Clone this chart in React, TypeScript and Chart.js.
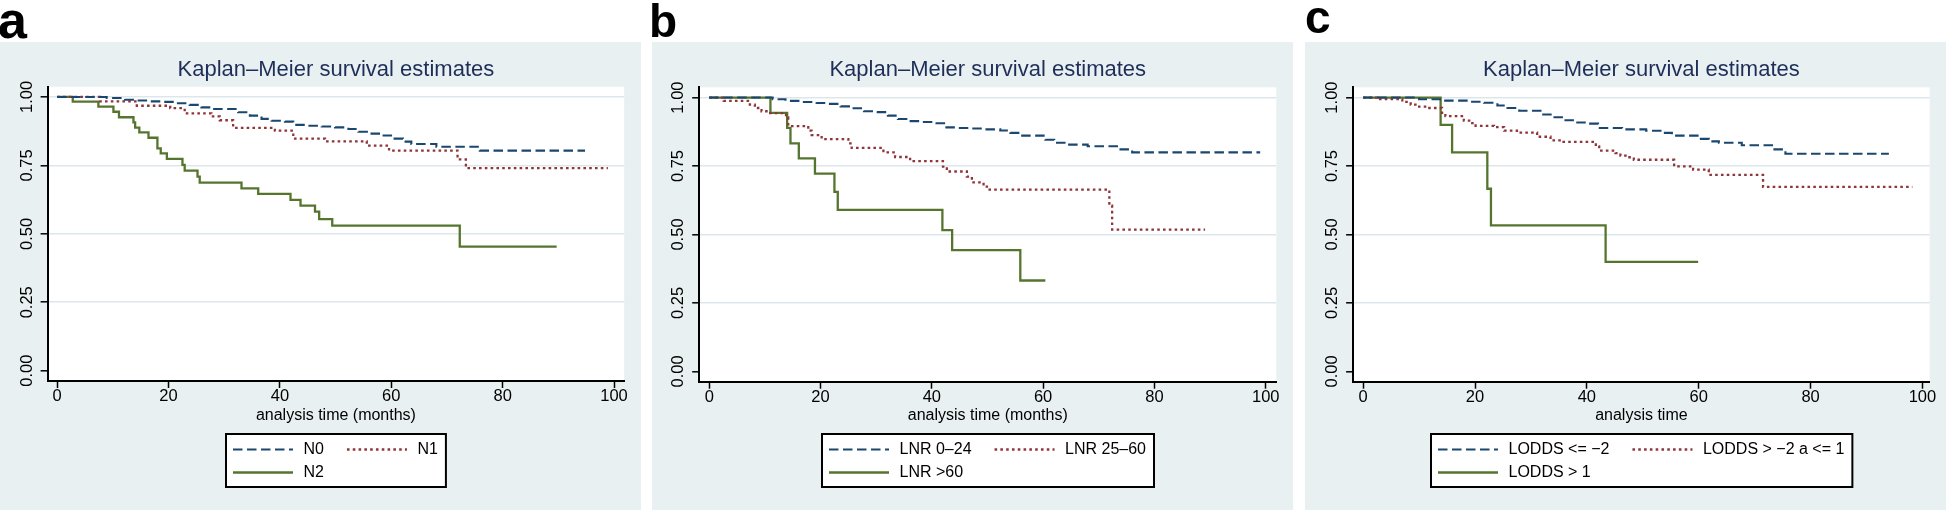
import React, { useEffect, useRef } from "react";
import { Chart, registerables } from "chart.js";

Chart.register(...registerables);

const FONT = '"Liberation Sans", Arial, Helvetica, sans-serif';
const NAVY = "#1a476f";
const MAROON = "#90353b";
const GREEN = "#55752f";
const TITLE_COLOR = "#1e2e58";
const BG = "#e9f0f1";
const GRID = "#dde7eb";

// shared axes
const xTicks = [0, 20, 40, 60, 80, 100];
const yTicks = [0, 0.25, 0.5, 0.75, 1];
const yTickLabels = ["0.00", "0.25", "0.50", "0.75", "1.00"];
const chartTitle = "Kaplan–Meier survival estimates";

// ---- panel a ----
const aLabels = ["N0", "N1", "N2"];
const aN0Time = [0, 8.9, 12.2, 14.1, 16.4, 19.0, 21.4, 23.8, 25.9, 27.7, 32.5, 34.6, 36.7, 38.5, 40.9, 42.4, 45.1, 47.5, 49.9, 52.3, 54.1, 55.9, 58.3, 60.3, 62.1, 63.6, 68.1, 75.9, 94.8];
const aN0Surv = [1, 0.996, 0.99, 0.987, 0.984, 0.982, 0.977, 0.971, 0.962, 0.956, 0.944, 0.932, 0.92, 0.913, 0.91, 0.898, 0.895, 0.892, 0.889, 0.883, 0.873, 0.866, 0.859, 0.848, 0.837, 0.828, 0.818, 0.804, 0.804];
const aN1Time = [0, 7.7, 14.3, 20.3, 22.9, 27.7, 29.2, 31.6, 39.1, 42.4, 48.1, 55.6, 59.6, 71.9, 73.4, 98.9];
const aN1Surv = [1, 0.984, 0.968, 0.959, 0.94, 0.929, 0.915, 0.887, 0.877, 0.848, 0.838, 0.822, 0.804, 0.772, 0.74, 0.74];
const aN2Time = [0, 2.8, 7.4, 10.1, 11.1, 13.7, 14.0, 14.75, 16.4, 18.0, 18.6, 19.7, 22.5, 22.9, 25.2, 25.6, 33.1, 36.1, 41.9, 43.7, 46.3, 47.05, 49.4, 72.3, 89.7];
const aN2Surv = [1, 0.983, 0.965, 0.946, 0.926, 0.907, 0.888, 0.871, 0.851, 0.812, 0.794, 0.774, 0.752, 0.731, 0.709, 0.687, 0.666, 0.646, 0.624, 0.603, 0.581, 0.554, 0.53, 0.453, 0.453];

// ---- panel b ----
const bLabels = ["LNR 0–24", "LNR 25–60", "LNR >60"];
const bLowTime = [0, 11.4, 13.7, 16.5, 19.3, 21.4, 23.6, 25.6, 27.8, 30.0, 32.1, 33.9, 36.2, 37.9, 39.9, 42.2, 44.8, 46.9, 49.0, 52.3, 54.1, 55.9, 60.4, 62.0, 64.3, 68.0, 73.6, 76.0, 99.0];
const bLowSurv = [1, 0.994, 0.988, 0.984, 0.98, 0.977, 0.968, 0.961, 0.95, 0.947, 0.934, 0.922, 0.914, 0.911, 0.906, 0.891, 0.889, 0.887, 0.884, 0.88, 0.871, 0.861, 0.846, 0.835, 0.828, 0.822, 0.811, 0.8, 0.8];
const bMidTime = [0, 2.6, 7.3, 8.2, 9.4, 10.3, 13.8, 14.2, 17.8, 18.4, 20.2, 25.0, 25.6, 31.3, 33.4, 36.1, 42.0, 42.7, 46.3, 47.2, 49.3, 49.9, 71.9, 72.4, 89.1];
const bMidSurv = [1, 0.988, 0.974, 0.962, 0.95, 0.943, 0.928, 0.896, 0.879, 0.863, 0.848, 0.833, 0.816, 0.8, 0.783, 0.768, 0.748, 0.73, 0.711, 0.69, 0.675, 0.664, 0.605, 0.518, 0.518];
const bHighTime = [0, 11.0, 14.0, 14.6, 16.1, 19.0, 22.5, 23.1, 41.9, 43.65, 55.9, 60.4];
const bHighSurv = [1, 0.944, 0.889, 0.833, 0.778, 0.722, 0.656, 0.59, 0.516, 0.443, 0.332, 0.332];

// ---- panel c ----
const cLabels = ["LODDS <= −2", "LODDS > −2 a <= 1", "LODDS > 1"];
const cLowTime = [0, 10.0, 14.1, 19.2, 21.6, 24.0, 25.8, 27.9, 32.0, 33.9, 35.9, 37.8, 40.2, 42.0, 46.3, 50.6, 53.4, 55.2, 60.0, 61.8, 63.6, 67.7, 73.1, 75.5, 94.0];
const cLowSurv = [1, 0.994, 0.989, 0.985, 0.981, 0.971, 0.962, 0.952, 0.938, 0.928, 0.917, 0.909, 0.905, 0.889, 0.884, 0.879, 0.871, 0.861, 0.849, 0.84, 0.835, 0.826, 0.811, 0.795, 0.795];
const cMidTime = [0, 2.5, 7.0, 8.5, 10.0, 11.5, 14.1, 14.7, 18.0, 19.5, 20.1, 23.4, 25.2, 27.5, 31.1, 33.5, 35.6, 41.6, 42.2, 45.1, 46.0, 47.2, 48.4, 55.6, 59.0, 61.8, 71.5, 98.2];
const cMidSurv = [1, 0.994, 0.984, 0.974, 0.967, 0.962, 0.944, 0.932, 0.916, 0.907, 0.897, 0.892, 0.879, 0.872, 0.857, 0.844, 0.838, 0.822, 0.806, 0.797, 0.788, 0.782, 0.773, 0.749, 0.737, 0.718, 0.674, 0.674];
const cHighTime = [0, 13.85, 15.9, 22.2, 22.85, 43.35, 59.9];
const cHighSurv = [1, 0.9, 0.8, 0.667, 0.533, 0.4, 0.4];

const STYLES = [
  { color: NAVY, width: 2.1, dash: [9.5, 4.5] },
  { color: MAROON, width: 2.3, dash: [2.6, 3.2] },
  { color: GREEN, width: 2.3, dash: [] as number[] },
];

type Series = { label: string; time: number[]; surv: number[] };
type PanelSpec = {
  letter: string; letterSize: number; letterX: number; letterBase: number;
  left: number; width: number;
  plotLeft: number; plotRight: number; plotTop: number; plotBottom: number;
  xMin: number; xMax: number; xTitle: string; series: Series[];
};

const PANELS: PanelSpec[] = [
  {
    letter: "a", letterSize: 52, letterX: -2, letterBase: 38.3,
    left: 0, width: 641, plotLeft: 47.6, plotRight: 624.2, plotTop: 86.7, plotBottom: 381,
    xMin: -1.72, xMax: 101.83, xTitle: "analysis time (months)",
    series: [
      { label: aLabels[0], time: aN0Time, surv: aN0Surv },
      { label: aLabels[1], time: aN1Time, surv: aN1Surv },
      { label: aLabels[2], time: aN2Time, surv: aN2Surv },
    ],
  },
  {
    letter: "b", letterSize: 46, letterX: -3, letterBase: 36.7,
    left: 652, width: 641, plotLeft: 47.2, plotRight: 624.3, plotTop: 87.3, plotBottom: 381.7,
    xMin: -1.8, xMax: 101.9, xTitle: "analysis time (months)",
    series: [
      { label: bLabels[0], time: bLowTime, surv: bLowSurv },
      { label: bLabels[1], time: bMidTime, surv: bMidSurv },
      { label: bLabels[2], time: bHighTime, surv: bHighSurv },
    ],
  },
  {
    letter: "c", letterSize: 46, letterX: 0, letterBase: 33.3,
    left: 1305, width: 641, plotLeft: 48.1, plotRight: 624.7, plotTop: 87.3, plotBottom: 381.7,
    xMin: -1.8, xMax: 101.3, xTitle: "analysis time",
    series: [
      { label: cLabels[0], time: cLowTime, surv: cLowSurv },
      { label: cLabels[1], time: cMidTime, surv: cMidSurv },
      { label: cLabels[2], time: cHighTime, surv: cHighSurv },
    ],
  },
];

function stataPlugin(p: PanelSpec) {
  return {
    id: "stataDecor",
    beforeDraw(chart: any) {
      const { ctx, width, height, chartArea: ca } = chart;
      ctx.save();
      ctx.fillStyle = "#ffffff";
      ctx.fillRect(0, 0, width, height);
      ctx.fillStyle = BG;
      ctx.fillRect(0, 42, width, height - 42);
      ctx.fillStyle = "#ffffff";
      ctx.fillRect(ca.left, ca.top, ca.right - ca.left, ca.bottom - ca.top);
      ctx.restore();
    },
    afterDraw(chart: any) {
      const { ctx, chartArea: ca } = chart;
      ctx.save();
      // panel letter
      ctx.fillStyle = "#000";
      ctx.font = `bold ${p.letterSize}px ${FONT}`;
      ctx.textBaseline = "alphabetic";
      ctx.textAlign = "left";
      ctx.fillText(p.letter, p.letterX, p.letterBase);

      // legend
      ctx.font = `16px ${FONT}`;
      const s = p.series;
      const w1 = Math.max(ctx.measureText(s[0].label).width, ctx.measureText(s[2].label).width);
      const w2 = ctx.measureText(s[1].label).width;
      const padL = 7, lineLen = 60, gapT = 10.5, colGap = 23, padR = 8;
      const boxW = padL + lineLen + gapT + w1 + colGap + lineLen + gapT + w2 + padR;
      const cx = (ca.left + ca.right) / 2;
      const bx = Math.round(cx - boxW / 2);
      const by = 434, bh = 53;
      ctx.fillStyle = "#fff";
      ctx.fillRect(bx, by, boxW, bh);
      ctx.strokeStyle = "#000";
      ctx.lineWidth = 2;
      ctx.setLineDash([]);
      ctx.strokeRect(bx, by, boxW, bh);
      const col1 = bx + padL;
      const col2 = col1 + lineLen + gapT + w1 + colGap;
      const rows = [by + 15.5, by + 38.5];
      const pos = [
        [col1, rows[0]],
        [col2, rows[0]],
        [col1, rows[1]],
      ];
      s.forEach((sr, i) => {
        const st = STYLES[i];
        const [x, y] = pos[i];
        ctx.strokeStyle = st.color;
        ctx.lineWidth = st.width;
        ctx.lineCap = "butt";
        ctx.setLineDash(st.dash);
        ctx.beginPath();
        ctx.moveTo(x, y);
        ctx.lineTo(x + lineLen, y);
        ctx.stroke();
        ctx.setLineDash([]);
        ctx.fillStyle = "#000";
        ctx.textBaseline = "middle";
        ctx.fillText(sr.label, x + lineLen + gapT, y + 0.5);
      });
      ctx.restore();
    },
  };
}

function buildConfig(p: PanelSpec): any {
  const datasets = p.series.map((sr, i) => ({
    label: sr.label,
    data: sr.time.map((t, k) => ({ x: t, y: sr.surv[k] })),
    borderColor: STYLES[i].color,
    backgroundColor: STYLES[i].color,
    borderWidth: STYLES[i].width,
    borderDash: STYLES[i].dash,
    borderCapStyle: "butt",
    stepped: "before",
    pointRadius: 0,
    pointHoverRadius: 0,
    fill: false,
    tension: 0,
  }));
  const titleLH = 22 * 1.2;
  const titleTop = 56.5;
  const xScaleH = 415.5 + 9.6 - p.plotBottom;
  return {
    type: "line",
    data: { datasets },
    options: {
      animation: false,
      responsive: false,
      events: [],
      layout: {
        padding: { left: 0, right: p.width - p.plotRight, top: 0, bottom: 510 - p.plotBottom - xScaleH },
      },
      plugins: {
        legend: { display: false },
        tooltip: { enabled: false },
        title: {
          display: true,
          text: chartTitle,
          fullSize: false,
          color: TITLE_COLOR,
          font: { family: FONT, size: 22, weight: "normal", lineHeight: 1.2 },
          padding: { top: titleTop, bottom: p.plotTop - titleTop - titleLH },
        },
      },
      scales: {
        x: {
          type: "linear",
          min: p.xMin,
          max: p.xMax,
          afterBuildTicks: (s: any) => { s.ticks = xTicks.map((v) => ({ value: v })); },
          afterFit: (s: any) => { s.height = xScaleH; },
          ticks: { color: "#000", font: { family: FONT, size: 16.5 }, padding: -1, maxRotation: 0, autoSkip: false },
          grid: { display: true, drawOnChartArea: false, tickColor: "#000", tickLength: 7, tickWidth: 1.5 },
          border: { display: true, color: "#000", width: 2 },
          title: { display: true, text: p.xTitle, color: "#000", font: { family: FONT, size: 16 }, padding: 0 },
        },
        y: {
          type: "linear",
          min: -0.0375,
          max: 1.0375,
          afterBuildTicks: (s: any) => { s.ticks = yTicks.map((v) => ({ value: v })); },
          afterFit: (s: any) => { s.width = p.plotLeft; },
          ticks: {
            color: "#000",
            font: { family: FONT, size: 16.5 },
            minRotation: 90,
            maxRotation: 90,
            crossAlign: "center",
            padding: -2.8,
            autoSkip: false,
            callback: (v: number) => yTickLabels[yTicks.indexOf(v)],
          },
          grid: {
            display: true,
            drawOnChartArea: true,
            color: (c: any) => (c.tick && c.tick.value === 0 ? "rgba(0,0,0,0)" : GRID),
            lineWidth: 1.6,
            tickColor: "#000",
            tickLength: 7,
            tickWidth: 1.5,
          },
          border: { display: true, color: "#000", width: 2 },
        },
      },
    },
    plugins: [stataPlugin(p)],
  };
}

function Panel({ spec }: { spec: PanelSpec }) {
  const ref = useRef<HTMLCanvasElement>(null);
  useEffect(() => {
    const chart = new Chart(ref.current as HTMLCanvasElement, buildConfig(spec));
    return () => chart.destroy();
  }, [spec]);
  return (
    <canvas
      ref={ref}
      width={spec.width}
      height={510}
      style={{ position: "absolute", left: spec.left, top: 0, width: spec.width, height: 510 }}
    />
  );
}

export default function App() {
  return (
    <div style={{ position: "absolute", left: 0, top: 0, width: 1946, height: 510, background: "#fff", overflow: "hidden" }}>
      {PANELS.map((p) => (
        <Panel key={p.letter} spec={p} />
      ))}
    </div>
  );
}
